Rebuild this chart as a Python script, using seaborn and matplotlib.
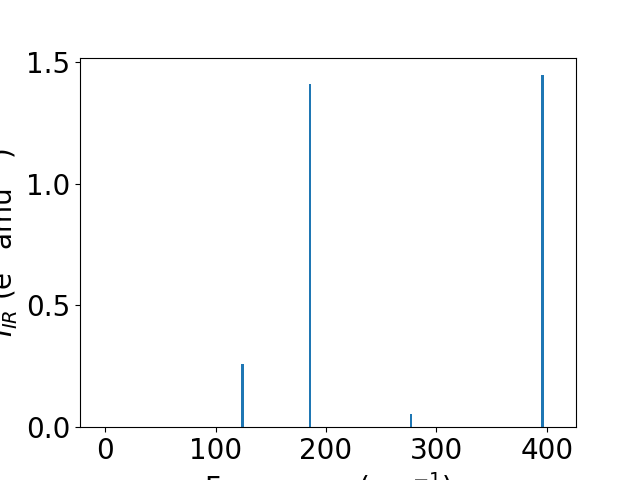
import pandas as pd
import seaborn as sns
import matplotlib
matplotlib.use("Agg")
import matplotlib.pyplot as plt

# IR active modes
frequencies = [124.3, 185.6, 277.0, 395.8]
intensities = [0.259, 1.409, 0.053, 1.446]

df = pd.DataFrame({"freq": frequencies, "inten": intensities})

plt.rcParams['font.size'] = 20

fig, ax = plt.subplots(figsize=(6.4, 4.8), dpi=100)

# bar width of ~2 cm^-1, expressed relative to the smallest spacing for native_scale
min_gap = min(b - a for a, b in zip(sorted(frequencies), sorted(frequencies)[1:]))
sns.barplot(data=df, x="freq", y="inten", native_scale=True, width=2.2 / min_gap,
            color="#1f77b4", saturation=1, linewidth=0, ax=ax)

ax.set_xlim(-22.7, 426.3)
ax.set_ylim(0, max(intensities) * 1.05)
ax.set_xticks([0, 100, 200, 300, 400])
ax.set_yticks([0.0, 0.5, 1.0, 1.5])
ax.set_xlabel("Frequency (cm$^{-1}$)", fontsize=20)
ax.set_ylabel("$I_{IR}$ (e$^2$ amu$^{-1}$)", fontsize=20)
ax.tick_params(labelsize=20)

plt.savefig("out.png", dpi=100)
